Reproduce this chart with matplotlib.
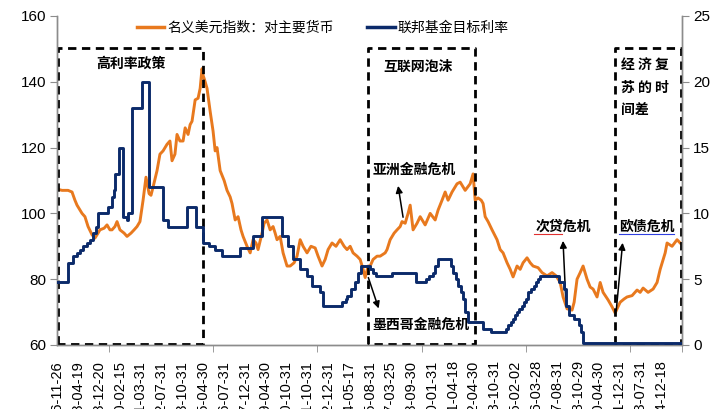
import matplotlib.pyplot as plt
from matplotlib.lines import Line2D

plt.rcParams['font.family'] = ['Liberation Sans', 'Noto Sans CJK SC']

# category labels along the x axis (one per position unit)
date_labels = ["1976-11-26", "1978-04-19", "1978-12-20", "1980-02-15", "1981-03-31",
               "1982-07-31", "1983-10-31", "1985-04-30", "1986-07-31", "1987-12-31",
               "1989-04-30", "1990-10-31", "1991-10-31", "1992-12-31", "1994-05-17",
               "1995-08-31", "1997-03-25", "1998-09-30", "2000-01-31", "2001-04-18",
               "2002-04-30", "2003-10-31", "2005-02-02", "2006-03-28", "2007-08-31",
               "2008-10-29", "2010-04-30", "2011-12-31", "2013-07-31", "2014-12-18"]

# nominal dollar index vs major currencies (left axis)
usd_x = [0.00, 0.24, 0.53, 0.72, 0.86, 0.96, 1.20, 1.34, 1.49, 1.68, 1.82, 1.97, 2.06, 2.26,
         2.40, 2.54, 2.64, 2.78, 2.88, 3.02, 3.22, 3.36, 3.55, 3.70, 3.84, 3.98, 4.13, 4.27,
         4.42, 4.51, 4.61, 4.80, 4.94, 5.09, 5.28, 5.42, 5.52, 5.66, 5.76, 5.90, 6.05, 6.15,
         6.29, 6.39, 6.48, 6.63, 6.77, 6.87, 6.96, 7.01, 7.11, 7.20, 7.35, 7.49, 7.59, 7.68,
         7.83, 8.02, 8.16, 8.31, 8.40, 8.55, 8.69, 8.83, 8.93, 9.12, 9.27, 9.41, 9.55, 9.65,
         9.84, 9.94, 10.08, 10.23, 10.37, 10.47, 10.56, 10.71, 10.85, 11.04, 11.19, 11.38,
         11.52, 11.67, 11.81, 12.00, 12.19, 12.39, 12.53, 12.72, 12.87, 13.01, 13.20, 13.39,
         13.59, 13.78, 13.92, 14.07, 14.21, 14.40, 14.55, 14.69, 14.79, 14.93, 15.03, 15.17,
         15.36, 15.51, 15.75, 15.84, 15.99, 16.18, 16.32, 16.47, 16.56, 16.71, 16.85, 16.95,
         17.09, 17.28, 17.43, 17.67, 17.91, 18.15, 18.29, 18.48, 18.63, 18.77, 18.96, 19.20,
         19.35, 19.59, 19.83, 19.97, 20.07, 20.21, 20.36, 20.45, 20.55, 20.69, 20.88, 21.12,
         21.27, 21.41, 21.60, 21.75, 21.89, 22.08, 22.23, 22.37, 22.56, 22.71, 22.85, 23.09,
         23.28, 23.52, 23.76, 23.96, 24.15, 24.29, 24.48, 24.72, 24.82, 24.96, 25.11, 25.25,
         25.44, 25.59, 25.73, 25.92, 26.07, 26.21, 26.45, 26.64, 26.79, 26.88, 27.03, 27.22,
         27.36, 27.60, 27.84, 27.99, 28.13, 28.37, 28.61, 28.80, 28.95, 29.19, 29.28, 29.52,
         29.76, 29.91]
usd_y = [107.4, 107, 107, 106.5, 104, 102.5, 100, 99, 96, 93.5, 92.5, 94, 95, 95.5,
         96.5, 95, 95, 96, 97.5, 95, 94, 93, 94, 95, 96, 97.5, 104, 111,
         106, 105.5, 108, 113, 118, 119, 121, 122, 116, 118, 124, 122, 122, 126,
         124, 127, 128, 134.5, 135, 138, 144, 142, 140, 138, 131, 125, 119, 120,
         113, 110, 107, 105, 103, 98, 99, 95, 93, 90, 88, 92, 91, 89,
         94, 97, 98, 95, 96, 94, 92, 93, 88, 84, 84, 85,
         87, 92, 90, 88, 90, 89.5, 87, 84, 86, 89, 91, 90,
         92, 90, 89, 90, 88, 87, 86, 83, 80.5, 84, 84, 86,
         87, 87, 88, 89, 92, 94, 95, 96, 97.5, 97, 100, 102.5,
         95, 97, 99, 96.5, 100, 98, 101, 104, 106.5, 104, 106.5, 109,
         109.5, 107, 109, 112, 104, 104.7, 104, 103, 99, 97.5, 95, 92,
         89, 88, 85, 83, 80.7, 84, 83, 85, 86.5, 85, 84, 83.5,
         82, 81, 82, 81, 79, 74.6, 71, 70.6, 73, 80, 82, 84,
         80, 77.6, 77, 74.6, 79, 76, 73.7, 71.6, 69.7, 71, 73, 74,
         74.6, 75, 76.7, 76, 77.3, 76, 77, 79, 83, 88, 91, 90,
         92, 91]

# federal funds target rate, % (right axis), step changes
fed_x = [0.0, 0.53, 0.77, 0.95, 1.1, 1.25, 1.44, 1.6, 1.73, 1.85, 1.97, 2.45, 2.64, 2.74,
         2.79, 2.98, 3.17, 3.37, 3.41, 3.61, 4.09, 4.42, 5.1, 5.34, 6.25, 6.68, 7.02, 7.3,
         7.6, 7.93, 8.8, 9.42, 9.86, 10.82, 11.1, 11.35, 11.68, 12.02, 12.26, 12.64, 12.79,
         13.7, 13.85, 13.94, 14.1, 14.3, 14.47, 14.57, 15.0, 15.15, 15.29, 16.1, 17.21,
         17.69, 17.85, 18.03, 18.15, 18.27, 18.9, 19.0, 19.13, 19.25, 19.38, 19.5, 19.6,
         19.71, 20.43, 20.82, 21.54, 21.65, 21.77, 21.88, 22.0, 22.08, 22.16, 22.3, 22.4,
         22.5, 22.6, 22.75, 22.88, 23.0, 23.1, 23.2, 24.1, 24.33, 24.45, 24.57, 24.8,
         25.05, 25.15, 25.24, 29.95]
fed_y = [4.75, 6.25, 6.75, 7.0, 7.25, 7.5, 7.75, 8.0, 8.5, 9.0, 10.0, 10.5, 11.25, 11.75,
         13.0, 15.0, 9.75, 9.5, 10.0, 18.0, 20.0, 12.0, 9.5, 9.0, 10.5, 9.0, 7.75, 7.5,
         7.25, 6.75, 7.375, 8.25, 9.75, 8.25, 7.5, 6.5, 5.75, 5.25, 4.5, 4.0, 3.0,
         3.25, 3.5, 3.75, 4.25, 4.75, 5.5, 6.0, 5.75, 5.5, 5.25, 5.5, 4.75,
         5.0, 5.25, 5.5, 6.0, 6.5, 6.0, 5.5, 5.0, 4.5, 4.0, 3.5, 2.5,
         1.75, 1.25, 1.0, 1.25, 1.5, 1.75, 2.0, 2.25, 2.5, 2.75, 3.0, 3.25,
         3.5, 4.0, 4.25, 4.5, 4.75, 5.0, 5.25, 4.75, 4.25, 3.0, 2.25, 2.0,
         1.5, 1.0, 0.125, 0.125]

orange = '#E8791E'
navy = '#0B2A6A'
grey = '#8C8C8C'

fig = plt.figure(figsize=(7.2, 4.09), dpi=100)
ax = fig.add_axes([0.0792, 0.1565, 0.8681, 0.8044])
ax2 = ax.twinx()

ax.plot(usd_x, usd_y, color=orange, linewidth=2.1, zorder=3)
ax2.plot(fed_x, fed_y, color=navy, linewidth=2.1, drawstyle='steps-post', zorder=3)

ax.set_xlim(0, 30)
ax.set_ylim(60, 160)
ax2.set_ylim(0, 25)
ax.set_yticks(range(60, 161, 20))
ax2.set_yticks(range(0, 26, 5))

# labels are cut by the bottom edge, as in the source image
ax.set_xticks(range(len(date_labels)))
ax.set_xticklabels(date_labels, rotation=90, fontsize=10.5)
ax.tick_params(axis='x', length=0, pad=11)
ax.set_xticks([i * 2.5 for i in range(13)], minor=True)
ax.tick_params(axis='x', which='minor', length=5, color=grey, direction='out')
ax.tick_params(axis='y', labelsize=11, length=5, color=grey, pad=3)
ax2.tick_params(axis='y', labelsize=11, length=5, color=grey, pad=3)

for a in (ax, ax2):
    a.spines['top'].set_visible(False)
    for s in ('left', 'right', 'bottom'):
        a.spines[s].set_color(grey)
        a.spines[s].set_linewidth(1.0)

# dashed period boxes
box_style = dict(color='black', linewidth=2.0, linestyle=(0, (3, 2)), zorder=4, clip_on=False)
for x0, x1 in [(0.05, 7.0), (14.95, 20.05), (26.8, 29.95)]:
    ax.plot([x0, x0, x1, x1, x0], [60.2, 150.4, 150.4, 60.2, 60.2], **box_style)

bold = dict(fontsize=10, fontweight='bold', family=['Noto Sans CJK SC', 'DejaVu Sans'], zorder=5)
ax.text(3.55, 145.4, '高利率政策', ha='center', va='center', **bold)
ax.text(17.33, 144.5, '互联网泡沫', ha='center', va='center', **bold)
ax.text(27.07, 144.8, '经 济 复', ha='left', va='center', **bold)
ax.text(27.07, 138.1, '苏 的 时', ha='left', va='center', **bold)
ax.text(27.07, 131.4, '间差', ha='left', va='center', **bold)

ax.text(15.14, 113.2, '亚洲金融危机', ha='left', va='center', **bold)
ax.text(15.14, 66.1, '墨西哥金融危机', ha='left', va='center', **bold)
ax.text(22.98, 95.9, '次贷危机', ha='left', va='center', **bold)
ax.text(26.97, 95.9, '欧债危机', ha='left', va='center', **bold)

# spell-check underlines as in the source document
ax.plot([22.9, 24.25], [93.7, 93.7], color='#E03030', linewidth=0.8, zorder=5)
ax.plot([26.95, 29.6], [93.7, 93.7], color='#3040E0', linewidth=0.8, zorder=5)

arrow = dict(arrowstyle='-|>', color='black', lw=1.1, mutation_scale=10)
for (xt, yt), (xh, yh) in [((16.63, 98), (16.35, 109.2)),
                           ((14.9, 81.3), (15.48, 70.3)),
                           ((24.42, 73.7), (24.28, 92.5)),
                           ((26.83, 69.7), (27.16, 91.9))]:
    ax.annotate('', xy=(xh, yh), xytext=(xt, yt), arrowprops=arrow, zorder=6)

handles = [Line2D([], [], color=orange, linewidth=2.5),
           Line2D([], [], color=navy, linewidth=2.5)]
ax.legend(handles, ['名义美元指数：对主要货币', '联邦基金目标利率'],
          loc='center', bbox_to_anchor=(0.425, 0.965), ncol=2, frameon=False,
          prop={'family': ['Noto Sans CJK SC'], 'size': 10},
          handlelength=2.0, handletextpad=0.2, columnspacing=2.4)

fig.savefig('out.png', dpi=100)
